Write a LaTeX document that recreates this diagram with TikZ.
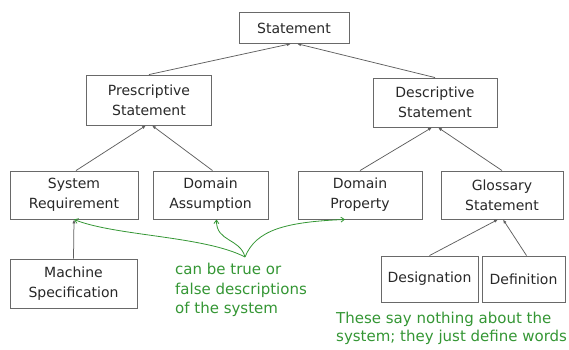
\documentclass[tikz,border=0pt]{standalone}
\usepackage{fontspec}
\setmainfont{DejaVu Sans}
\usetikzlibrary{arrows.meta}
\definecolor{boxline}{RGB}{105,105,105}
\definecolor{linkline}{RGB}{95,95,95}
\definecolor{notegreen}{RGB}{52,150,52}
\definecolor{boxtext}{RGB}{40,40,40}
\begin{document}
\begin{tikzpicture}[x=1pt,y=-1pt,
  box/.style={draw=boxline,line width=0.9pt,fill=white,text=boxtext,
    align=center,inner sep=0pt,
    font=\fontsize{14}{20}\selectfont},
  link/.style={draw=linkline,line width=0.75pt,
    -{Latex[length=4pt,width=3.2pt]}},
  note/.style={text=notegreen,align=left,anchor=north west,inner sep=0pt,
    font=\fontsize{15}{19.5}\selectfont},
  notelink/.style={draw=notegreen,line width=0.8pt,
    -{Straight Barb[length=3.5pt,width=5pt]}}]
\useasboundingbox (0,0) rectangle (569,349);

% taxonomy boxes
\node[box,minimum width=110pt,minimum height=30.5pt] (stmt) at (294,28) {Statement};
\node[box,minimum width=125pt,minimum height=50pt] (presc) at (149,100) {Prescriptive\\Statement};
\node[box,minimum width=124pt,minimum height=49pt] (descr) at (435,102.5) {Descriptive\\Statement};
\node[box,minimum width=128pt,minimum height=48pt] (sysreq) at (74,195) {System\\Requirement};
\node[box,minimum width=115pt,minimum height=48pt] (domass) at (210.5,195) {Domain\\Assumption};
\node[box,minimum width=124pt,minimum height=48pt] (domprop) at (360,195) {Domain\\Property};
\node[box,minimum width=122pt,minimum height=48pt] (gloss) at (502,195) {Glossary\\Statement};
\node[box,minimum width=127pt,minimum height=49pt] (machine) at (73.5,283.5) {Machine\\Specification};
\node[box,minimum width=97pt,minimum height=46pt] (desig) at (429.5,279) {Designation};
\node[box,minimum width=83pt,minimum height=46pt] (defin) at (523.5,279) {Definition};

% specialisation links, child to parent
\draw[link] (presc.north) -- ([xshift=-3pt]stmt.south);
\draw[link] (descr.north) -- ([xshift=3pt]stmt.south);
\draw[link] ([xshift=2pt]sysreq.north) -- ([xshift=-3pt]presc.south);
\draw[link] ([xshift=2pt]domass.north) -- ([xshift=3pt]presc.south);
\draw[link] (domprop.north) -- ([xshift=-3pt]descr.south);
\draw[link] (gloss.north) -- ([xshift=3pt]descr.south);
\draw[link] (desig.north) -- ([xshift=-4pt]gloss.south);
\draw[link] ([xshift=3pt]defin.north) -- ([xshift=1pt]gloss.south);
\draw[link] (machine.north) -- (sysreq.south);

% annotations
\node[note] (truefalse) at (175,263) {can be true or\\false descriptions\\of the system};
\node[note,font=\fontsize{15}{17.5}\selectfont] (glossnote) at (336,312) {These say nothing about the\\system; they just define words};

\coordinate (hub) at (245,257);
\draw[notelink] (hub) .. controls (205,236) and (115,236) .. (sysreq.south);
\draw[notelink] (hub) .. controls (240,238) and (216,242) .. ([xshift=6pt]domass.south);
\draw[notelink] (hub) .. controls (256,230) and (285,222) .. ([xshift=-15pt]domprop.south);
\end{tikzpicture}
\end{document}
